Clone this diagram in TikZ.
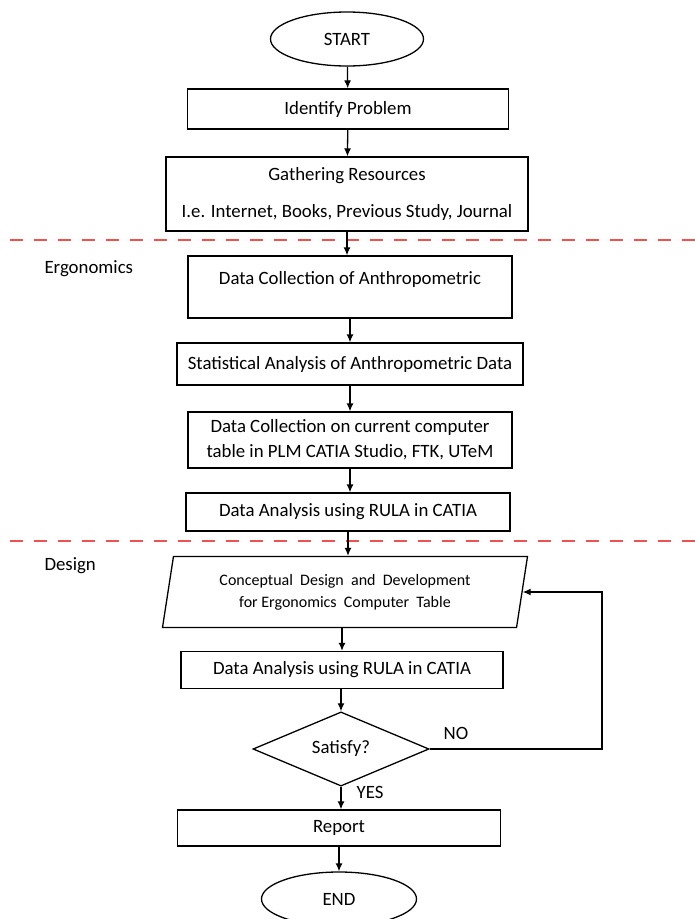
\documentclass[tikz,border=0pt]{standalone}
\usepackage{fontspec}
\setmainfont{Carlito}
\usetikzlibrary{arrows,arrows.meta}
\usetikzlibrary{shapes.geometric}
\definecolor{cutred}{RGB}{236,82,82}

\begin{document}
\begin{tikzpicture}[x=1pt,y=-1pt,>={Latex[length=8pt,width=7pt]},
    font=\fontsize{18.8}{22}\selectfont,
    box/.style={draw,line width=1.3pt,minimum width=324,minimum height=40,inner sep=0,align=center},
    term/.style={draw,ellipse,line width=1.3pt,minimum width=153,minimum height=54,inner sep=0},
    flow/.style={->,line width=1.3pt},
    cut/.style={cutred,line width=2.2pt,dash pattern=on 13pt off 11pt}]
    \useasboundingbox[fill=white] (0,0) rectangle (695,919);

    \node[term] (start) at (347,39) {START};
    \node[box,minimum width=321] (ident) at (348,109) {Identify Problem};
    \node[box,minimum width=362,minimum height=74,font=\fontsize{18.8}{37}\selectfont] (gather) at (347,194)
        {Gathering Resources\\I.e. Internet, Books, Previous Study, Journal};

    % ergonomics part
    \coordinate (cutA) at (10,240);
    \coordinate (cutB) at (695,240);
    \draw[cut] (cutA) -- (cutB);
    \node[anchor=west] (ergo) at (41,269) {Ergonomics};

    \node[box,minimum height=62,text height=13pt,text depth=18pt] (anthro) at (350,287) {Data Collection of Anthropometric};
    \node[box,minimum width=346,minimum height=42] (stat) at (350,364) {Statistical Analysis of Anthropometric Data};
    \node[box,minimum height=56,font=\fontsize{18.8}{25}\selectfont] (curr) at (350,440)
        {Data Collection on current computer\\table in PLM CATIA Studio, FTK, UTeM};
    \node[box,minimum height=38] (rulaA) at (348,512) {Data Analysis using RULA in CATIA};

    % design part
    \coordinate (cutC) at (10,541);
    \coordinate (cutD) at (695,541);
    \draw[cut] (cutC) -- (cutD);
    \node[anchor=west] (design) at (41,566) {Design};

    \node[draw,trapezium,trapezium left angle=73,trapezium right angle=107,
        trapezium stretches body,minimum width=365,minimum height=71,inner sep=0,
        line width=1.3pt,align=center,font=\fontsize{16}{22}\selectfont] (concept) at (345,592)
        {Conceptual\ \ Design\ \ and\ \ Development\\for\ Ergonomics\ \ Computer\ \ Table};
    \node[box,minimum width=322,minimum height=37] (rulaB) at (342,670) {Data Analysis using RULA in CATIA};
    \node[draw,diamond,line width=1.3pt,minimum width=176,minimum height=66,inner sep=0] (sat) at (341,749) {Satisfy?};
    \node[box,minimum width=323,minimum height=36] (report) at (339,828) {Report};
    \node[term,minimum width=155] (end) at (339,899) {END};

    \node (no) at (456,733) {NO};
    \node (yes) at (370,792) {YES};
    \coordinate (loop) at (602,749);

    \draw[flow] (start) -- (ident);
    \draw[flow] (ident) -- (gather);
    \draw[flow] (gather.south) -- (gather.south |- anthro.north);
    \draw[flow] (anthro.south) -- (anthro.south |- stat.north);
    \draw[flow] (stat.south) -- (stat.south |- curr.north);
    \draw[flow] (curr.south) -- (curr.south |- rulaA.north);
    \draw[flow] (rulaA.south) -- (rulaA.south |- concept.north);
    \draw[flow] (concept.south -| rulaB) -- (rulaB);
    \draw[flow] (rulaB.south -| sat) -- (sat.north);
    \draw[flow] (sat.south) -- (sat.south |- report.north);
    \draw[flow] (report.south -| end) -- (end);
    \draw[flow] (sat.east) -- (loop) |- (concept.east);
    \end{tikzpicture}
\end{document}
